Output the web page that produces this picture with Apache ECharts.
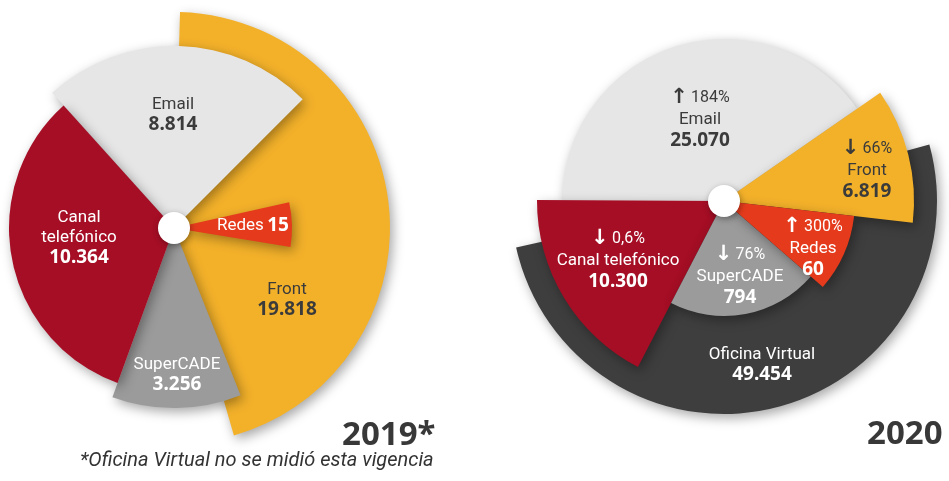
<!DOCTYPE html>
<html>
<head>
<meta charset="utf-8">
<script src="https://cdn.jsdelivr.net/npm/echarts@6/dist/echarts.min.js"></script>
<style>
  html, body { margin: 0; padding: 0; background: #fff; }
  #chart { width: 949px; height: 481px; }
</style>
</head>
<body>
<div id="chart"></div>
<script>
// 2019 (Oficina Virtual was not measured that year)
const names2019 = ['Front', 'Email', 'SuperCADE', 'Canal telefónico', 'Redes'];
const values2019 = [19818, 8814, 3256, 10364, 15];

// 2020
const names2020 = ['Oficina Virtual', 'Email', 'Canal telefónico', 'SuperCADE', 'Front', 'Redes'];
const values2020 = [49454, 25070, 10300, 794, 6819, 60];
const change2020 = [null, 184, -0.6, -76, -66, 300]; // % vs 2019

const years = ['2019*', '2020'];
const footnote = '*Oficina Virtual no se midió esta vigencia';

// drawing layout: [from, to] degrees clockwise from 12 o'clock, outer radius
const center2019 = [174, 228];
const center2020 = [724, 201];
const sectors2019 = [[1.6, 163.9, 216], [318, 405, 182], [158.3, 200, 180], [200, 318, 165], [77.4, 99.3, 118]];
const labelAt2019 = [[287, 300], [173, 115], [177, 375], [79, 238], [253, 226]];
const sectors2020 = [[74.6, 257.4, 213], [270, 415.3, 162], [207.4, 270.3, 187], [131, 207.4, 115], [55.3, 96.6, 190], [96.6, 131, 131]];
const labelAt2020 = [[762, 365], [700, 118], [618, 259], [740, 275], [867, 169], [813, 247]];

const colors = {
  'Email': '#e6e6e6',
  'Front': '#f3b12a',
  'Canal telefónico': '#a50e25',
  'SuperCADE': '#9b9b9b',
  'Redes': '#e53b1c',
  'Oficina Virtual': '#3e3e3e'
};
const darkText = '#3b3b3b';
const whiteLabels = ['Canal telefónico', 'SuperCADE', 'Redes', 'Oficina Virtual'];
const NARROW = 'Roboto';

const rich = {
  n: { fontFamily: NARROW, fontSize: 17, lineHeight: 20 },
  v: { fontFamily: 'Noto Sans', fontWeight: 'bold', fontSize: 19, lineHeight: 21 },
  a: { fontFamily: 'DejaVu Sans', fontWeight: 'bold', fontSize: 21, lineHeight: 25 },
  p: { fontFamily: NARROW, fontSize: 16, lineHeight: 25 }
};

function fmtNum(v) {
  return String(v).replace(/\B(?=(\d{3})+(?!\d))/g, '.');
}

function labelText(name, value, change, inline, wrap) {
  if (inline) return '{n|' + name + '} {v|' + fmtNum(value) + '}';
  const lines = [];
  if (change != null) {
    lines.push('{a|' + (change > 0 ? '↑' : '↓') + '} {p|' + String(Math.abs(change)).replace('.', ',') + '%}');
  }
  (wrap ? name.split(' ') : [name]).forEach(function (w) { lines.push('{n|' + w + '}'); });
  lines.push('{v|' + fmtNum(value) + '}');
  return lines.join('\n');
}

function slice(name, value, change, sector, at, center, inline, wrap) {
  const span = sector[1] - sector[0];
  return {
    type: 'pie',
    center: center,
    radius: [0, sector[2]],
    startAngle: 90 - sector[0],
    clockwise: true,
    silent: true,
    avoidLabelOverlap: false,
    emphasis: { disabled: true },
    label: {
      show: true,
      position: 'inside',
      color: whiteLabels.indexOf(name) >= 0 ? '#fff' : darkText,
      rich: rich
    },
    labelLine: { show: false },
    labelLayout: function (p) {
      return p.dataIndex === 0 ? { x: at[0], y: at[1], align: 'center', verticalAlign: 'middle' } : {};
    },
    data: [
      {
        value: span,
        name: name,
        itemStyle: {
          color: colors[name],
          shadowBlur: 12,
          shadowColor: 'rgba(0,0,0,0.35)',
          shadowOffsetX: 3,
          shadowOffsetY: 4
        },
        label: { formatter: labelText(name, value, change, inline, wrap) }
      },
      {
        value: 360 - span,
        name: '',
        itemStyle: { color: 'rgba(0,0,0,0)', shadowBlur: 0, shadowColor: 'rgba(0,0,0,0)' },
        label: { show: false }
      }
    ]
  };
}

function hole(center) {
  return {
    type: 'pie',
    center: center,
    radius: [0, 16],
    silent: true,
    emphasis: { disabled: true },
    label: { show: false },
    labelLine: { show: false },
    data: [{ value: 1, itemStyle: { color: '#fff', shadowBlur: 6, shadowColor: 'rgba(0,0,0,0.35)', shadowOffsetX: 1, shadowOffsetY: 2 } }]
  };
}

const series = [];
names2019.forEach(function (n, i) {
  series.push(slice(n, values2019[i], null, sectors2019[i], labelAt2019[i], center2019,
    n === 'Redes', n === 'Canal telefónico'));
});
series.push(hole(center2019));
names2020.forEach(function (n, i) {
  series.push(slice(n, values2020[i], change2020[i], sectors2020[i], labelAt2020[i], center2020, false, false));
});
series.push(hole(center2020));

const chart = echarts.init(document.getElementById('chart'));
chart.setOption({
  animation: false,
  backgroundColor: '#fff',
  series: series,
  graphic: [
    { type: 'text', x: 342, y: 436, style: { text: years[0], font: 'bold 33px "Noto Sans"', fill: '#383838', textAlign: 'left', textVerticalAlign: 'middle' } },
    { type: 'text', x: 867, y: 435, style: { text: years[1], font: 'bold 33px "Noto Sans"', fill: '#383838', textAlign: 'left', textVerticalAlign: 'middle' } },
    { type: 'text', x: 80, y: 461, style: { text: footnote, font: 'italic 20px Roboto', fill: '#333', textAlign: 'left', textVerticalAlign: 'middle' } }
  ]
});
</script>
</body>
</html>
